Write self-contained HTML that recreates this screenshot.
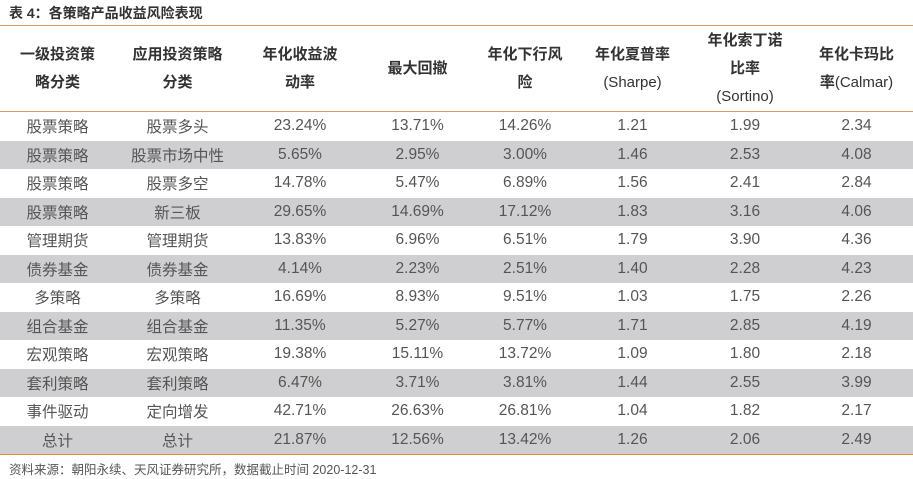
<!DOCTYPE html>
<html><head><meta charset="utf-8"><style>
body{margin:0;width:913px;height:479px;background:#fff;font-family:"Liberation Sans","Noto Sans CJK SC",sans-serif;position:relative;overflow:hidden}
.title{position:absolute;left:9px;top:3px;font-size:14px;font-weight:bold;color:#333}
table{position:absolute;left:0;top:25px;width:913px;border-collapse:collapse;border-top:1.5px solid #d89a5c;border-bottom:1.5px solid #e08a3c}
th{height:85px;font-size:15px;font-weight:bold;color:#333;line-height:28px;border-bottom:1.5px solid #d89a5c;padding:0}
td{height:28.5px;padding:0;text-align:center;font-size:15.5px;color:#555}
tr.g td{background:#cfcfd1}
.foot{position:absolute;left:9px;top:459px;font-size:12.5px;color:#555}
</style></head><body>
<div class="title">表 4：各策略产品收益风险表现</div>
<table>
<colgroup><col style="width:115px"><col style="width:125px"><col style="width:120px"><col style="width:115px"><col style="width:100px"><col style="width:115px"><col style="width:110px"><col style="width:113px"></colgroup>
<tr>
<th>一级投资策<br>略分类</th>
<th>应用投资策略<br>分类</th>
<th>年化收益波<br>动率</th>
<th>最大回撤</th>
<th>年化下行风<br>险</th>
<th>年化夏普率<br><span style="font-weight:normal">(Sharpe)</span></th>
<th>年化索丁诺<br>比率<br><span style="font-weight:normal">(Sortino)</span></th>
<th>年化卡玛比<br>率<span style="font-weight:normal">(Calmar)</span></th>
</tr>
<tr><td>股票策略</td><td>股票多头</td><td>23.24%</td><td>13.71%</td><td>14.26%</td><td>1.21</td><td>1.99</td><td>2.34</td></tr>
<tr class="g"><td>股票策略</td><td>股票市场中性</td><td>5.65%</td><td>2.95%</td><td>3.00%</td><td>1.46</td><td>2.53</td><td>4.08</td></tr>
<tr><td>股票策略</td><td>股票多空</td><td>14.78%</td><td>5.47%</td><td>6.89%</td><td>1.56</td><td>2.41</td><td>2.84</td></tr>
<tr class="g"><td>股票策略</td><td>新三板</td><td>29.65%</td><td>14.69%</td><td>17.12%</td><td>1.83</td><td>3.16</td><td>4.06</td></tr>
<tr><td>管理期货</td><td>管理期货</td><td>13.83%</td><td>6.96%</td><td>6.51%</td><td>1.79</td><td>3.90</td><td>4.36</td></tr>
<tr class="g"><td>债券基金</td><td>债券基金</td><td>4.14%</td><td>2.23%</td><td>2.51%</td><td>1.40</td><td>2.28</td><td>4.23</td></tr>
<tr><td>多策略</td><td>多策略</td><td>16.69%</td><td>8.93%</td><td>9.51%</td><td>1.03</td><td>1.75</td><td>2.26</td></tr>
<tr class="g"><td>组合基金</td><td>组合基金</td><td>11.35%</td><td>5.27%</td><td>5.77%</td><td>1.71</td><td>2.85</td><td>4.19</td></tr>
<tr><td>宏观策略</td><td>宏观策略</td><td>19.38%</td><td>15.11%</td><td>13.72%</td><td>1.09</td><td>1.80</td><td>2.18</td></tr>
<tr class="g"><td>套利策略</td><td>套利策略</td><td>6.47%</td><td>3.71%</td><td>3.81%</td><td>1.44</td><td>2.55</td><td>3.99</td></tr>
<tr><td>事件驱动</td><td>定向增发</td><td>42.71%</td><td>26.63%</td><td>26.81%</td><td>1.04</td><td>1.82</td><td>2.17</td></tr>
<tr class="g"><td>总计</td><td>总计</td><td>21.87%</td><td>12.56%</td><td>13.42%</td><td>1.26</td><td>2.06</td><td>2.49</td></tr>
</table>
<div class="foot">资料来源：朝阳永续、天风证券研究所，数据截止时间 2020-12-31</div>
</body></html>
